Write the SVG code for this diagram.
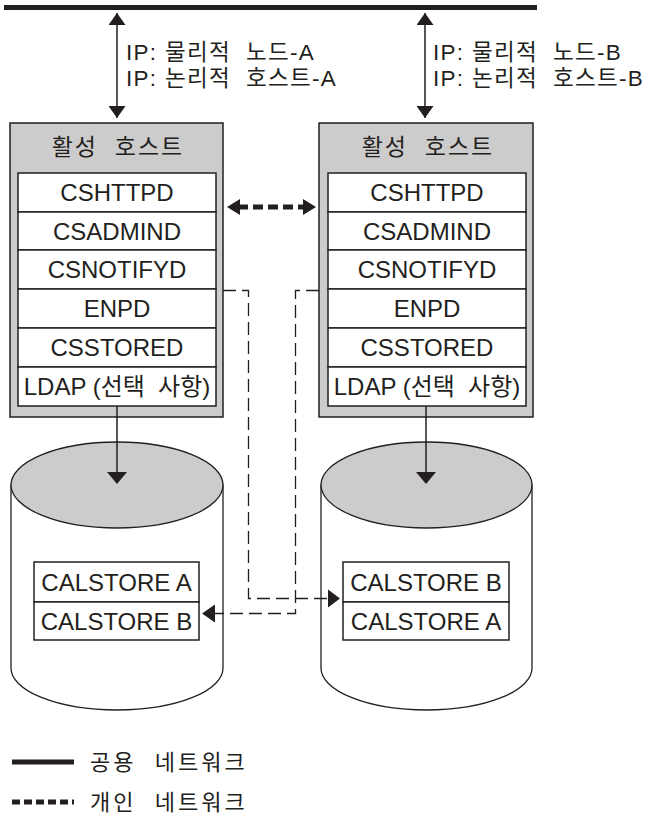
<svg xmlns="http://www.w3.org/2000/svg" width="649" height="816" viewBox="0 0 649 816">
  <style>
    text { font-family: "Liberation Sans", "Noto Sans CJK KR", sans-serif; fill: #231f20; white-space: pre; }
    .row { font-size: 24px; text-anchor: middle; }
    .hdr { font-size: 23px; text-anchor: middle; letter-spacing: 2px; }
    .ip { font-size: 22.5px; letter-spacing: 1.3px; }
    .leg { font-size: 22px; letter-spacing: 3px; }
    .host { fill: #cccccc; stroke: #231f20; stroke-width: 1.5; }
    .cell { fill: #ffffff; stroke: #231f20; stroke-width: 1.5; }
    .cyl { fill: #ffffff; stroke: #231f20; stroke-width: 1.3; }
    .cyltop { fill: #cccccc; stroke: #231f20; stroke-width: 1.3; }
    .thin { fill: none; stroke: #231f20; stroke-width: 1.5; }
    .dash { fill: none; stroke: #231f20; stroke-width: 1.3; stroke-dasharray: 13 6; }
    .priv { fill: none; stroke: #231f20; stroke-width: 5; stroke-dasharray: 10 5; }
    .pub { fill: none; stroke: #231f20; stroke-width: 5; }
    .head { fill: #231f20; }
  </style>
  <defs>
    <marker id="ahs" viewBox="0 0 10 10" refX="10" refY="5" markerWidth="12" markerHeight="17" markerUnits="userSpaceOnUse" orient="auto-start-reverse" preserveAspectRatio="none">
      <path d="M0,0 L10,5 L0,10 z" fill="#231f20"/>
    </marker>
  </defs>

  <!-- public network bus -->
  <line class="pub" x1="4" y1="7.5" x2="537" y2="7.5"/>

  <!-- IP labels -->
  <g id="ip-a">
    <text class="ip" x="126" y="60">IP: 물리적  노드-A</text>
    <text class="ip" x="126" y="86">IP: 논리적  호스트-A</text>
  </g>
  <g id="ip-b">
    <text class="ip" x="433" y="60">IP: 물리적  노드-B</text>
    <text class="ip" x="433" y="86">IP: 논리적  호스트-B</text>
  </g>

  <!-- active host A -->
  <g id="host-a">
    <rect class="host" x="10" y="123" width="213" height="294"/>
    <text class="hdr" x="118" y="155">활성  호스트</text>
    <rect class="cell" x="18" y="173" width="198" height="39"/>
    <rect class="cell" x="18" y="212" width="198" height="38"/>
    <rect class="cell" x="18" y="250" width="198" height="39"/>
    <rect class="cell" x="18" y="289" width="198" height="39"/>
    <rect class="cell" x="18" y="328" width="198" height="39"/>
    <rect class="cell" x="18" y="367" width="198" height="39"/>
    <text class="row" x="117" y="201">CSHTTPD</text>
    <text class="row" x="117" y="240">CSADMIND</text>
    <text class="row" x="117" y="278">CSNOTIFYD</text>
    <text class="row" x="117" y="317">ENPD</text>
    <text class="row" x="117" y="356">CSSTORED</text>
    <text class="row" x="117" y="395">LDAP (선택  사항)</text>
  </g>

  <!-- active host B -->
  <g id="host-b">
    <rect class="host" x="319" y="123" width="214" height="294"/>
    <text class="hdr" x="428" y="155">활성  호스트</text>
    <rect class="cell" x="328" y="173" width="198" height="39"/>
    <rect class="cell" x="328" y="212" width="198" height="38"/>
    <rect class="cell" x="328" y="250" width="198" height="39"/>
    <rect class="cell" x="328" y="289" width="198" height="39"/>
    <rect class="cell" x="328" y="328" width="198" height="39"/>
    <rect class="cell" x="328" y="367" width="198" height="39"/>
    <text class="row" x="427" y="201">CSHTTPD</text>
    <text class="row" x="427" y="240">CSADMIND</text>
    <text class="row" x="427" y="278">CSNOTIFYD</text>
    <text class="row" x="427" y="317">ENPD</text>
    <text class="row" x="427" y="356">CSSTORED</text>
    <text class="row" x="427" y="395">LDAP (선택  사항)</text>
  </g>

  <!-- store A -->
  <g id="store-a">
    <path class="cyl" d="M11,485 V668 A106,42 0 0 0 223,668 V485 Z"/>
    <ellipse class="cyltop" cx="117" cy="485" rx="106" ry="43"/>
    <rect class="cell" x="34" y="562" width="165" height="40"/>
    <rect class="cell" x="34" y="602" width="165" height="38"/>
    <text class="row" x="116.5" y="591">CALSTORE A</text>
    <text class="row" x="116.5" y="630">CALSTORE B</text>
  </g>

  <!-- store B -->
  <g id="store-b">
    <path class="cyl" d="M321,485 V668 A105.5,42 0 0 0 532,668 V485 Z"/>
    <ellipse class="cyltop" cx="426.5" cy="485" rx="105.5" ry="43"/>
    <rect class="cell" x="343" y="562" width="166" height="40"/>
    <rect class="cell" x="343" y="602" width="166" height="38"/>
    <text class="row" x="426" y="591">CALSTORE B</text>
    <text class="row" x="426" y="630">CALSTORE A</text>
  </g>

  <!-- connectors -->
  <g id="connectors">
    <!-- bus to hosts -->
    <line class="thin" x1="117" y1="13" x2="117" y2="118" marker-start="url(#ahs)" marker-end="url(#ahs)"/>
    <line class="thin" x1="425" y1="13" x2="425" y2="118" marker-start="url(#ahs)" marker-end="url(#ahs)"/>
    <!-- private link between hosts -->
    <line class="priv" x1="238" y1="207" x2="305" y2="207"/>
    <polygon class="head" points="227,207 240,199 240,215"/>
    <polygon class="head" points="316,207 303,199 303,215"/>
    <!-- hosts to their stores -->
    <line class="thin" x1="117" y1="406" x2="117" y2="473"/>
    <polygon class="head" points="107,472 127,472 117,484"/>
    <line class="thin" x1="426" y1="406" x2="426" y2="473"/>
    <polygon class="head" points="416,472 436,472 426,484"/>
    <!-- cross replication paths -->
    <path class="dash" d="M223,290.5 H248.5 V598.5 H329"/>
    <polygon class="head" points="340,598.5 328,589.5 328,607.5"/>
    <path class="dash" d="M319,290.5 H295.5 V613.5 H214"/>
    <polygon class="head" points="202,613.5 215,604.5 215,622.5"/>
  </g>

  <!-- legend -->
  <g id="legend">
    <line class="pub" x1="12" y1="762" x2="74" y2="762"/>
    <text class="leg" x="90" y="770">공용  네트워크</text>
    <line class="pub" x1="12" y1="802" x2="74" y2="802" style="stroke-dasharray:8 4"/>
    <text class="leg" x="90" y="810">개인  네트워크</text>
  </g>
</svg>
